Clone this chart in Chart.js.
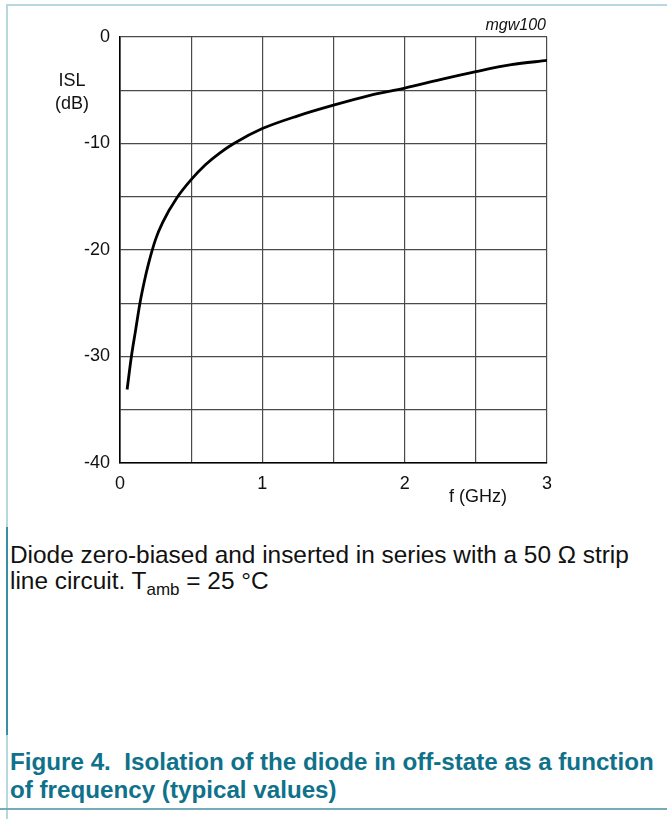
<!DOCTYPE html>
<html>
<head>
<meta charset="utf-8">
<script src="https://cdn.jsdelivr.net/npm/chart.js@4/dist/chart.umd.min.js"></script>
<style>
  body { margin: 0; background: #fff; }
  #page { position: relative; width: 667px; height: 819px; overflow: hidden; font-family: "Liberation Sans", Arial, sans-serif; }
  #wrap { position: absolute; left: 0; top: 0; width: 667px; height: 519px; }
  .line { position: absolute; }
  .txt { position: absolute; left: 10px; white-space: nowrap; line-height: 28px; }
  .note { font-size: 24.4px; color: #111; }
  .fig { font-size: 24.2px; font-weight: bold; color: #0f718a; }
</style>
</head>
<body>
<div id="page">
  <div class="line" style="left:6px;top:4px;width:661px;height:2px;background:#b7d7de"></div>
  <div class="line" style="left:6px;top:4px;width:2px;height:815px;background:#b7d7de"></div>
  <div class="line" style="left:6px;top:527px;width:2px;height:208px;background:#3a8ea4"></div>
  <div class="line" style="left:0;top:808px;width:667px;height:2px;background:#74acb7"></div>
  <div id="wrap"><canvas id="myChart"></canvas></div>
  <div class="txt note" style="top:541px">Diode zero-biased and inserted in series with a 50 Ω strip</div>
  <div class="txt note" style="top:567px">line circuit. T<sub style="font-size:17px;line-height:0">amb</sub> = 25 °C</div>
  <div class="txt fig" style="top:748px">Figure 4.&nbsp; Isolation of the diode in off-state as a function</div>
  <div class="txt fig" style="top:776px">of frequency (typical values)</div>
</div>
<script>
const freq = [0.05, 0.08, 0.11, 0.14, 0.17, 0.2, 0.25, 0.3, 0.4, 0.5, 0.6, 0.7, 0.8, 1.0, 1.25, 1.5, 1.75, 2.0, 2.25, 2.5, 2.75, 3.0];
const isl = [-33.1, -30.0, -27.5, -25.0, -23.0, -21.3, -19.0, -17.4, -15.1, -13.4, -12.0, -10.9, -10.0, -8.6, -7.4, -6.4, -5.5, -4.8, -4.0, -3.25, -2.6, -2.2];
const xTickLabels = ['0', '1', '2', '3'];
const yTickLabels = ['0', '-10', '-20', '-30', '-40'];

const points = freq.map((f, i) => ({ x: f, y: isl[i] }));
const FONT = '"Liberation Sans", Arial, sans-serif';

// extra texts: axis names and the drawing code
const labelsPlugin = {
  id: 'labelsPlugin',
  afterDraw(chart) {
    const ctx = chart.ctx;
    const a = chart.chartArea;
    ctx.save();
    ctx.fillStyle = '#111';
    ctx.textBaseline = 'middle';
    ctx.font = '18px ' + FONT;
    ctx.textAlign = 'center';
    ctx.fillText('ISL', 72, 81);
    ctx.fillText('(dB)', 72, 104);
    ctx.fillText('f (GHz)', 478, 497);
    ctx.font = 'italic 16px ' + FONT;
    ctx.textAlign = 'right';
    ctx.fillText('mgw100', a.right - 1, 26);
    ctx.restore();
  }
};

const ctx = document.getElementById('myChart').getContext('2d');
const chart = new Chart(ctx, {
  type: 'line',
  data: {
    datasets: [{
      label: 'ISL',
      data: points,
      borderColor: '#000',
      borderWidth: 2.8,
      pointRadius: 0,
      fill: false,
      cubicInterpolationMode: 'monotone'
    }]
  },
  options: {
    responsive: true,
    maintainAspectRatio: false,
    animation: false,
    layout: { padding: { left: 0, top: 37, right: 120, bottom: 16 } },
    plugins: {
      legend: { display: false },
      tooltip: { enabled: false }
    },
    scales: {
      x: {
        type: 'linear',
        min: 0,
        max: 3,
        afterFit: (s) => { s.height = 40; },
        grid: { color: '#4a4a4a', lineWidth: 1.2, drawTicks: false },
        border: { color: '#000', width: 1.6 },
        ticks: {
          stepSize: 0.5,
          padding: 10,
          maxRotation: 0,
          autoSkip: false,
          color: '#111',
          font: { size: 18, family: FONT },
          callback: (v) => Number.isInteger(v) ? xTickLabels[v] : ''
        }
      },
      y: {
        min: -40,
        max: 0,
        afterFit: (s) => { s.width = 120; },
        grid: { color: '#4a4a4a', lineWidth: 1.2, drawTicks: false },
        border: { color: '#000', width: 1.6 },
        ticks: {
          stepSize: 5,
          padding: 10,
          autoSkip: false,
          color: '#111',
          font: { size: 18, family: FONT },
          callback: (v) => v % 10 === 0 ? yTickLabels[-v / 10] : ''
        }
      }
    }
  },
  plugins: [labelsPlugin]
});
</script>
</body>
</html>
